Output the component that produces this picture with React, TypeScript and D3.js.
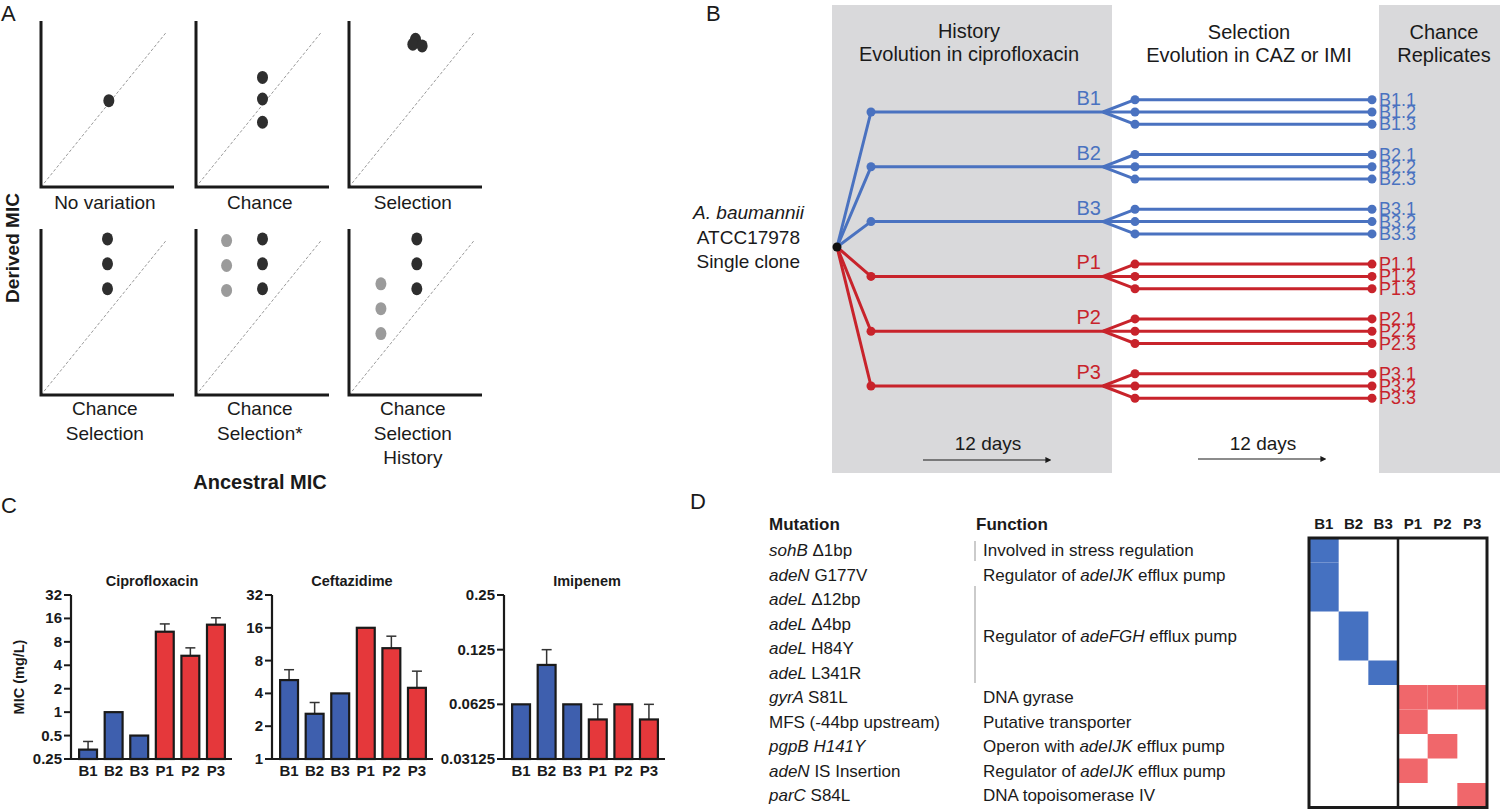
import React from "react";
import * as d3 from "d3";

const FONT = "'Liberation Sans', Arial, Helvetica, sans-serif";

// ---- Panel A : conceptual scenarios ----
const scenarioLabels = [
  ["No variation"],
  ["Chance"],
  ["Selection"],
  ["Chance", "Selection"],
  ["Chance", "Selection*"],
  ["Chance", "Selection", "History"],
];
const scenarioDark = [
  [[0.51, 0.52]],
  [[0.5, 0.66], [0.5, 0.53], [0.5, 0.39]],
  [[0.5, 0.89], [0.48, 0.86], [0.55, 0.85]],
  [[0.5, 0.94], [0.5, 0.79], [0.5, 0.64]],
  [[0.5, 0.94], [0.5, 0.79], [0.5, 0.64]],
  [[0.51, 0.94], [0.51, 0.79], [0.51, 0.64]],
];
const scenarioGrey = [
  [],
  [],
  [],
  [],
  [[0.23, 0.93], [0.23, 0.78], [0.23, 0.63]],
  [[0.24, 0.67], [0.24, 0.52], [0.24, 0.37]],
];

// ---- Panel B : experimental design ----
const lineages = ["B1", "B2", "B3", "P1", "P2", "P3"];
const replicates = ["1", "2", "3"];

// ---- Panel C : MIC bars ----
const strains = ["B1", "B2", "B3", "P1", "P2", "P3"];
const ciproMean = [0.33, 1, 0.5, 10.8, 5.3, 13.3];
const ciproUpper = [0.42, 1, 0.5, 13.6, 6.7, 16.3];
const cazMean = [5.3, 2.6, 4, 16, 10.4, 4.5];
const cazUpper = [6.6, 3.3, 4, 16, 13.4, 6.4];
const imiMean = [0.0625, 0.103, 0.0625, 0.0516, 0.0625, 0.0516];
const imiUpper = [0.0625, 0.125, 0.0625, 0.0625, 0.0625, 0.0625];
const ciproTicks = [0.25, 0.5, 1, 2, 4, 8, 16, 32];
const cazTicks = [1, 2, 4, 8, 16, 32];
const imiTicks = [0.03125, 0.0625, 0.125, 0.25];

// ---- Panel D : mutations ----
const mutGenes = ["sohB", "adeN", "adeL", "adeL", "adeL", "adeL", "gyrA", "", "pgpB", "adeN", "parC"];
const mutChanges = ["Δ1bp", "G177V", "Δ12bp", "Δ4bp", "H84Y", "L341R", "S81L", "MFS (-44bp upstream)", "H141Y", "IS Insertion", "S84L"];
const mutChangeItalic = [false, false, false, false, false, false, false, false, true, false, false];
const functionLabels = [
  "Involved in stress regulation",
  "Regulator of |adeIJK| efflux pump",
  "Regulator of |adeFGH| efflux pump",
  "DNA gyrase",
  "Putative transporter",
  "Operon with |adeIJK| efflux pump",
  "Regulator of |adeIJK| efflux pump",
  "DNA topoisomerase IV",
];
const functionRows = [0, 1, 3.5, 6, 7, 8, 9, 10];
const mutHits = [["B1"], ["B1"], ["B1"], ["B2"], ["B2"], ["B3"], ["P1", "P2", "P3"], ["P1"], ["P2"], ["P1"], ["P3"]];

const BLUE_LINE = "#4a72c0";
const RED_LINE = "#c8232b";
const BAR_BLUE = "#3e5fae";
const BAR_RED = "#e5383b";
const HEAT_BLUE = "#4571c1";
const HEAT_RED = "#f0676b";
const PANEL_GREY = "#d9d9db";

function Scenario({ i }: { i: number }) {
  const col = i % 3;
  const row = Math.floor(i / 3);
  const left = [41, 196, 349][col];
  const top = [21, 229][row];
  const w = 133;
  const h = 166;
  const x = d3.scaleLinear([0, 1], [left, left + w]);
  const y = d3.scaleLinear([0, 1], [top + h, top]);
  const labelY = row === 0 ? 209 : 415;
  return (
    <g>
      <line x1={x(0)} y1={y(0)} x2={x(0.94)} y2={y(0.93)} stroke="#9a9a9a" strokeWidth={1} strokeDasharray="3,2" />
      <path d={`M${x(0)},${y(1)}V${y(0)}H${x(1)}`} fill="none" stroke="#1a1a1a" strokeWidth={3} />
      {scenarioGrey[i].map((p, k) => (
        <ellipse key={"g" + k} cx={x(p[0])} cy={y(p[1])} rx={5.5} ry={6.5} fill="#9b9b9b" />
      ))}
      {scenarioDark[i].map((p, k) => (
        <ellipse key={"d" + k} cx={x(p[0])} cy={y(p[1])} rx={5.5} ry={6.5} fill="#2e2e2e" />
      ))}
      {scenarioLabels[i].map((t, k) => (
        <text key={k} x={x(0.48)} y={labelY + k * 24.5} textAnchor="middle" fontSize={19} fill="#1a1a1a">
          {t}
        </text>
      ))}
    </g>
  );
}

function Design() {
  const y = d3.scalePoint<string>().domain(lineages).range([112, 386]);
  const off = d3.scalePoint<string>().domain(replicates).range([-12.3, 12.3]);
  const root = { x: 837, y: 247 };
  const xDot = 871;
  const xFork = 1103;
  const xRep = 1135;
  const xEnd = 1372;
  return (
    <g>
      <rect x={832} y={5} width={280} height={468} fill={PANEL_GREY} />
      <rect x={1379} y={5} width={121} height={468} fill={PANEL_GREY} />
      <g fontSize={20} fill="#1a1a1a" textAnchor="middle">
        <text x={969} y={38}>History</text>
        <text x={969} y={61}>Evolution in ciprofloxacin</text>
        <text x={1249} y={39}>Selection</text>
        <text x={1249} y={62}>Evolution in CAZ or IMI</text>
        <text x={1444} y={39}>Chance</text>
        <text x={1444} y={62}>Replicates</text>
      </g>
      <g fontSize={19} fill="#1a1a1a" textAnchor="end">
        <text x={804} y={219} fontStyle="italic">A. baumannii</text>
        <text x={800} y={244}>ATCC17978</text>
        <text x={800} y={268}>Single clone</text>
      </g>
      {lineages.map((l) => {
        const c = l.startsWith("B") ? BLUE_LINE : RED_LINE;
        const ly = y(l) as number;
        return (
          <g key={l}>
            <path d={`M${root.x},${root.y}L${xDot},${ly}H${xFork}`} fill="none" stroke={c} strokeWidth={3} strokeLinejoin="round" />
            <circle cx={xDot} cy={ly} r={4.5} fill={c} />
            <text x={1101} y={ly - 7} textAnchor="end" fontSize={20} fill={c}>{l}</text>
            {replicates.map((r) => {
              const ry = ly + (off(r) as number);
              return (
                <g key={r}>
                  <path d={`M${xFork},${ly}L${xRep},${ry}H${xEnd}`} fill="none" stroke={c} strokeWidth={3} strokeLinejoin="round" />
                  <circle cx={xRep} cy={ry} r={4.5} fill={c} />
                  <circle cx={xEnd} cy={ry} r={4.5} fill={c} />
                  <text x={1379} y={ry + 6} fontSize={18} fill={c}>{`${l}.${r}`}</text>
                </g>
              );
            })}
          </g>
        );
      })}
      <circle cx={root.x} cy={root.y} r={4.5} fill="#111" />
      <g fontSize={19} fill="#1a1a1a" textAnchor="middle">
        <text x={988} y={450}>12 days</text>
        <text x={1263} y={450}>12 days</text>
      </g>
      <line x1={923} y1={460} x2={1046} y2={460} stroke="#1a1a1a" strokeWidth={1.2} markerEnd="url(#arrow)" />
      <line x1={1198} y1={459} x2={1321} y2={459} stroke="#1a1a1a" strokeWidth={1.2} markerEnd="url(#arrow)" />
    </g>
  );
}

function MicChart({ title, titleX, axisX, means, uppers, ticks, tickFmt }: {
  title: string; titleX: number; axisX: number; means: number[]; uppers: number[]; ticks: number[]; tickFmt: (v: number) => string;
}) {
  const top = 595;
  const bottom = 759;
  const y = d3.scaleLog().base(2).domain([ticks[0], ticks[ticks.length - 1]]).range([bottom, top]);
  const x = d3.scaleBand<string>().domain(strains).range([axisX + 3, axisX + 159]).paddingInner(0.3).paddingOuter(0.2);
  return (
    <g>
      <text x={titleX} y={586} textAnchor="middle" fontSize={14.5} fontWeight="bold" fill="#1a1a1a">{title}</text>
      {strains.map((s, i) => {
        const bx = x(s) as number;
        const bw = x.bandwidth();
        const cx = bx + bw / 2;
        const fill = s.startsWith("B") ? BAR_BLUE : BAR_RED;
        return (
          <g key={s}>
            {uppers[i] > means[i] * 1.01 && (
              <g stroke="#333" strokeWidth={1.5}>
                <line x1={cx} x2={cx} y1={y(means[i])} y2={y(uppers[i])} />
                <line x1={cx - 5} x2={cx + 5} y1={y(uppers[i])} y2={y(uppers[i])} />
              </g>
            )}
            <rect x={bx} y={y(means[i])} width={bw} height={bottom - y(means[i])} fill={fill} stroke="#1a1a1a" strokeWidth={2.2} />
            <text x={cx} y={776} textAnchor="middle" fontSize={15} fontWeight="bold" fill="#1a1a1a">{s}</text>
          </g>
        );
      })}
      <path d={`M${axisX},${top}V${bottom}H${axisX + 161}`} fill="none" stroke="#1a1a1a" strokeWidth={2.2} />
      {ticks.map((t) => (
        <g key={t}>
          <line x1={axisX - 7} x2={axisX} y1={y(t)} y2={y(t)} stroke="#1a1a1a" strokeWidth={2} />
          <text x={axisX - 9} y={y(t) + 5} textAnchor="end" fontSize={15} fontWeight="bold" fill="#1a1a1a">{tickFmt(t)}</text>
        </g>
      ))}
    </g>
  );
}

function RichText({ s, x, y, size }: { s: string; x: number; y: number; size: number }) {
  const parts = s.split("|");
  return (
    <text x={x} y={y} fontSize={size} fill="#1a1a1a">
      {parts.map((p, k) => (
        <tspan key={k} fontStyle={k % 2 === 1 ? "italic" : "normal"}>{p}</tspan>
      ))}
    </text>
  );
}

function Mutations() {
  const rowTop = 538;
  const rowH = 24.5;
  const row = (i: number) => rowTop + rowH * i;
  const x = d3.scaleBand<string>().domain(strains).range([1309, 1487]);
  const size = 17;
  return (
    <g>
      <text x={769} y={530} fontSize={17} fontWeight="bold" fill="#1a1a1a">Mutation</text>
      <text x={976} y={530} fontSize={17} fontWeight="bold" fill="#1a1a1a">Function</text>
      {strains.map((s) => (
        <text key={s} x={(x(s) as number) + x.bandwidth() / 2} y={529} textAnchor="middle" fontSize={15} fontWeight="bold" fill="#1a1a1a">{s}</text>
      ))}
      {mutGenes.map((g, i) => (
        <text key={i} x={769} y={row(i) + rowH / 2 + 6} fontSize={size} fill="#1a1a1a">
          {g && <tspan fontStyle="italic">{g + " "}</tspan>}
          <tspan fontStyle={mutChangeItalic[i] ? "italic" : "normal"}>{mutChanges[i]}</tspan>
        </text>
      ))}
      {functionLabels.map((f, i) => (
        <RichText key={i} s={f} x={983} y={row(functionRows[i]) + rowH / 2 + 6} size={size} />
      ))}
      <line x1={975} x2={975} y1={541} y2={561} stroke="#a8a8a8" strokeWidth={1.2} />
      <line x1={975} x2={975} y1={586} y2={683} stroke="#a8a8a8" strokeWidth={1.2} />
      {mutHits.map((hits, i) =>
        hits.map((s) => (
          <rect key={i + s} x={x(s)} y={row(i)} width={x.bandwidth()} height={rowH}
            fill={s.startsWith("B") ? HEAT_BLUE : HEAT_RED} />
        ))
      )}
      <rect x={1309} y={rowTop} width={178} height={rowH * mutGenes.length} fill="none" stroke="#1a1a1a" strokeWidth={3} />
      <line x1={x("P1")} x2={x("P1")} y1={rowTop} y2={rowTop + rowH * mutGenes.length} stroke="#1a1a1a" strokeWidth={2.5} />
    </g>
  );
}

export default function App() {
  const fmt = (v: number) => String(v);
  return (
    <svg width={1500} height={810} style={{ position: "absolute", left: 0, top: 0, background: "#fff" }} fontFamily={FONT}>
      <defs>
        <marker id="arrow" viewBox="0 0 10 10" refX={1} refY={5} markerWidth={6} markerHeight={6} markerUnits="userSpaceOnUse" orient="auto">
          <path d="M0,0L10,5L0,10z" fill="#1a1a1a" />
        </marker>
      </defs>
      <rect width={1500} height={810} fill="#fff" />
      <g fontSize={22} fill="#1a1a1a">
        <text x={1} y={21}>A</text>
        <text x={706} y={21}>B</text>
        <text x={1} y={513}>C</text>
        <text x={690} y={509}>D</text>
      </g>
      {scenarioLabels.map((_, i) => <Scenario key={i} i={i} />)}
      <text transform="translate(19,248) rotate(-90)" textAnchor="middle" fontSize={19} fontWeight="bold" fill="#1a1a1a">Derived MIC</text>
      <text x={260} y={489} textAnchor="middle" fontSize={20} fontWeight="bold" fill="#1a1a1a">Ancestral MIC</text>
      <Design />
      <text transform="translate(24,677) rotate(-90)" textAnchor="middle" fontSize={14.5} fontWeight="bold" fill="#1a1a1a">MIC (mg/L)</text>
      <MicChart title="Ciprofloxacin" titleX={152} axisX={71} means={ciproMean} uppers={ciproUpper} ticks={ciproTicks} tickFmt={fmt} />
      <MicChart title="Ceftazidime" titleX={352} axisX={272} means={cazMean} uppers={cazUpper} ticks={cazTicks} tickFmt={fmt} />
      <MicChart title="Imipenem" titleX={587} axisX={504} means={imiMean} uppers={imiUpper} ticks={imiTicks} tickFmt={fmt} />
      <Mutations />
    </svg>
  );
}
